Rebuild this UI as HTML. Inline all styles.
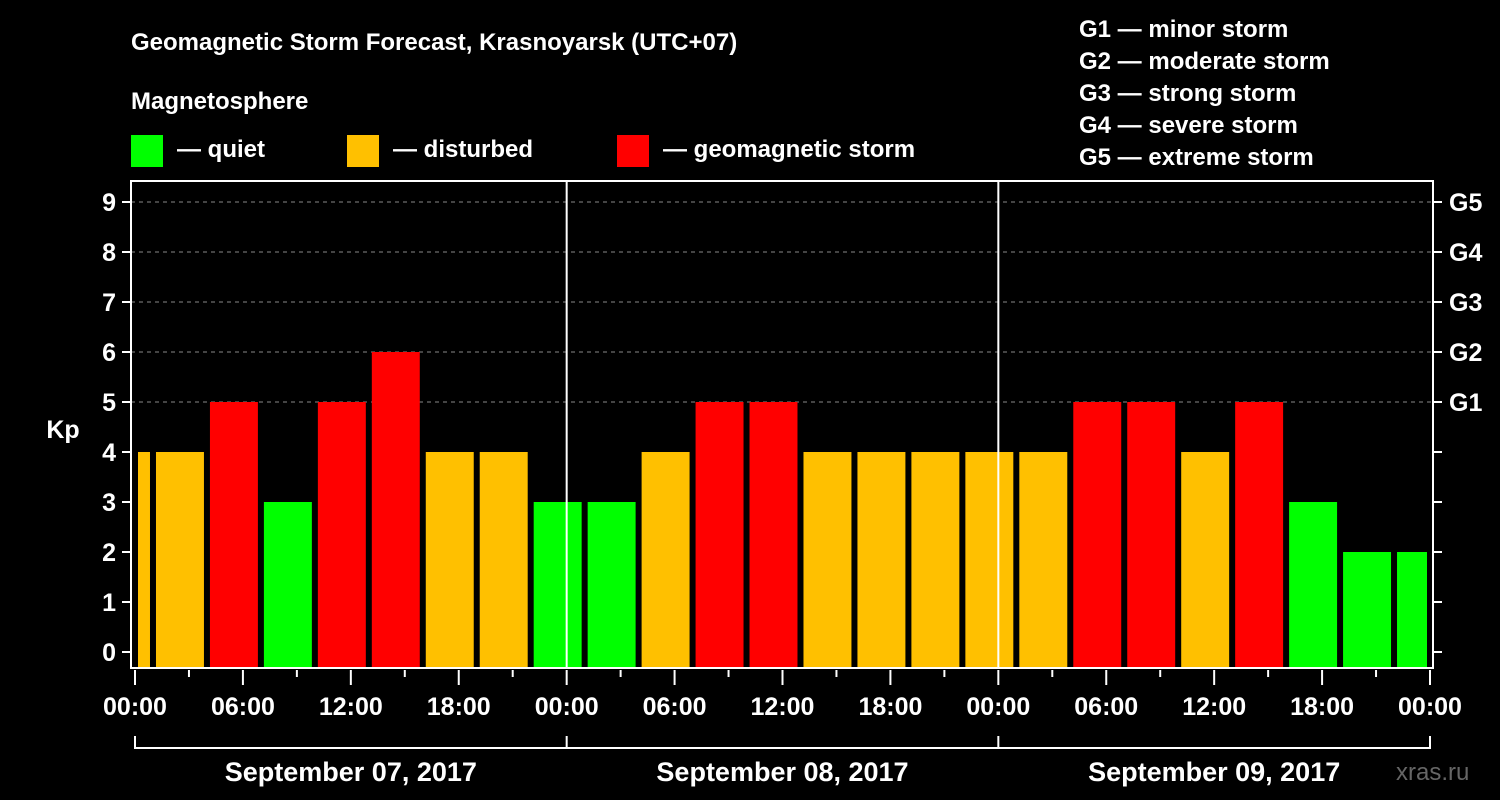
<!DOCTYPE html>
<html><head><meta charset="utf-8"><style>
html,body{margin:0;padding:0;background:#000;}
svg{display:block;font-family:"Liberation Sans",Arial,sans-serif;font-weight:bold;}
</style></head><body>
<svg id="chart" width="1500" height="800" viewBox="0 0 1500 800">
<rect x="0" y="0" width="1500" height="800" fill="#000"/>
<text x="131" y="50" fill="#fff" font-size="24">Geomagnetic Storm Forecast, Krasnoyarsk (UTC+07)</text>
<text x="131" y="109" fill="#fff" font-size="24">Magnetosphere</text>
<g><rect x="131" y="135" width="32" height="32" fill="#00ff00"/><text x="177" y="157" fill="#fff" font-size="24">— quiet</text></g>
<g><rect x="347" y="135" width="32" height="32" fill="#ffc000"/><text x="393" y="157" fill="#fff" font-size="24">— disturbed</text></g>
<g><rect x="617" y="135" width="32" height="32" fill="#ff0000"/><text x="663" y="157" fill="#fff" font-size="24">— geomagnetic storm</text></g>
<g fill="#fff" font-size="24">
<text x="1079" y="37">G1 — minor storm</text>
<text x="1079" y="69">G2 — moderate storm</text>
<text x="1079" y="101">G3 — strong storm</text>
<text x="1079" y="133">G4 — severe storm</text>
<text x="1079" y="165">G5 — extreme storm</text>
</g>
<g id="grid"></g>
<g id="bars"></g>
<g id="axes"></g>
<text x="788" y="6" fill="#fff" font-size="1" opacity="0"> </text>
<text x="1396" y="780" fill="#666" font-size="24" font-weight="normal">xras.ru</text>
</svg>
<script>
const barStartHours=[-2,1,4,7,10,13,16,19,22,25,28,31,34,37,40,43,46,49,52,55,58,61,64,67,70];
const kpValues=[4,4,5,3,5,6,4,4,3,3,4,5,5,4,4,4,4,4,5,5,4,5,3,2,2];
const yTicks=[0,1,2,3,4,5,6,7,8,9];
const gLabels=["G1","G2","G3","G4","G5"];
const gLevels=[5,6,7,8,9];
const xLabels=["00:00","06:00","12:00","18:00","00:00","06:00","12:00","18:00","00:00","06:00","12:00","18:00","00:00"];
const dayLabels=["September 07, 2017","September 08, 2017","September 09, 2017"];
const NS="http://www.w3.org/2000/svg";
const x0=135,pxH=1295/72,L=131,R=1433,T=181,B=668;
const xs=h=>x0+h*pxH;
const ys=v=>652-v*50;
function mk(tag,attrs,parent){const e=document.createElementNS(NS,tag);for(const k in attrs)e.setAttribute(k,attrs[k]);parent.appendChild(e);return e;}
const grid=document.getElementById('grid'),bars=document.getElementById('bars'),axes=document.getElementById('axes');
gLevels.forEach((v,i)=>{
 const l=mk('line',{x1:L,x2:R,y1:ys(v),y2:ys(v),stroke:'#888','stroke-dasharray':'4,4','stroke-width':1},grid);
 
 
 const t=mk('text',{x:1449,y:ys(v)+9,fill:'#fff','font-size':25},axes);t.textContent=gLabels[i];
 
 
});
kpValues.forEach((v,i)=>{
 let a=xs(barStartHours[i]),b=xs(barStartHours[i]+3);
 a=Math.max(a,x0)+3;b=Math.min(b,xs(72))-3;
 const c=v>=5?'#ff0000':(v==4?'#ffc000':'#00ff00');
 const r=mk('rect',{x:a,y:ys(v),width:b-a,height:667-ys(v),fill:c},bars);
 
 
});
// day dividers
[24,48].forEach(h=>{const l=mk('line',{x1:xs(h),x2:xs(h),y1:T,y2:B,stroke:'#fff','stroke-width':2},axes);
 
 });
const fr=mk('rect',{x:L,y:T,width:R-L,height:B-T,fill:'none',stroke:'#fff','stroke-width':2},axes);


yTicks.forEach(v=>{
 mk('line',{x1:L-9,x2:L,y1:ys(v),y2:ys(v),stroke:'#fff','stroke-width':2},axes);
 mk('line',{x1:R,x2:R+9,y1:ys(v),y2:ys(v),stroke:'#fff','stroke-width':2},axes);
 const t=mk('text',{x:116,y:ys(v)+9,fill:'#fff','font-size':25,'text-anchor':'end'},axes);t.textContent=v;
 
 
});
const kp=mk('text',{x:63,y:438,fill:'#fff','font-size':25,'text-anchor':'middle'},axes);kp.textContent='Kp';


for(let h=0;h<=72;h+=3){
 const major=h%6==0;
 mk('line',{x1:xs(h),x2:xs(h),y1:B+2,y2:B+(major?17:9),stroke:'#fff','stroke-width':2},axes);
}
xLabels.forEach((s,i)=>{
 const t=mk('text',{x:xs(i*6),y:715,fill:'#fff','font-size':25,'text-anchor':'middle'},axes);t.textContent=s;
 
 
});
mk('line',{x1:xs(0),x2:xs(72),y1:748,y2:748,stroke:'#fff','stroke-width':2},axes);
[0,24,48,72].forEach(h=>mk('line',{x1:xs(h),x2:xs(h),y1:736,y2:749,stroke:'#fff','stroke-width':2},axes));
dayLabels.forEach((s,i)=>{
 const t=mk('text',{x:xs(i*24+12),y:781,fill:'#fff','font-size':27,'text-anchor':'middle'},axes);t.textContent=s;
 
 
});
</script>
</body></html>
